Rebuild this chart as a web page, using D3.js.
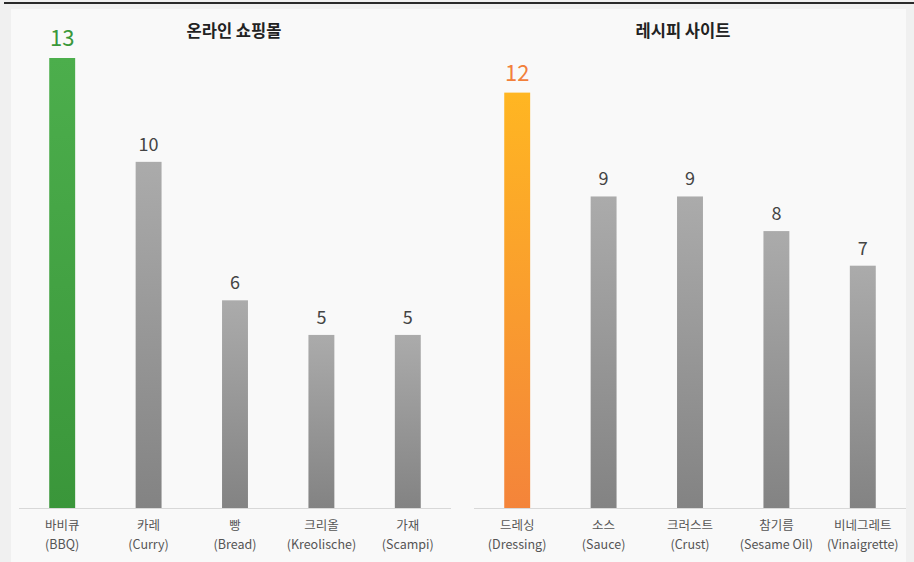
<!DOCTYPE html>
<html>
<head>
<meta charset="utf-8">
<script src="https://cdn.jsdelivr.net/npm/d3@7"></script>
<style>
body { margin: 0; background: #f0f0f0; font-family: "Noto Sans CJK KR", "Noto Sans", sans-serif; }
</style>
</head>
<body>
<script>
// data
var shopTitle = "온라인 쇼핑몰";
var shopKo = ["바비큐", "카레", "빵", "크리올", "가재"];
var shopEn = ["(BBQ)", "(Curry)", "(Bread)", "(Kreolische)", "(Scampi)"];
var shopValues = [13, 10, 6, 5, 5];

var recipeTitle = "레시피 사이트";
var recipeKo = ["드레싱", "소스", "크러스트", "참기름", "비네그레트"];
var recipeEn = ["(Dressing)", "(Sauce)", "(Crust)", "(Sesame Oil)", "(Vinaigrette)"];
var recipeValues = [12, 9, 9, 8, 7];

var width = 914;
var height = 562;

var svg = d3.select("body")
    .append("svg")
    .attr("width", width)
    .attr("height", height);

var defs = svg.append("defs");

function grad(id, top, bottom) {
    var g = defs.append("linearGradient")
        .attr("id", id)
        .attr("x1", 0).attr("y1", 0)
        .attr("x2", 0).attr("y2", 1);
    g.append("stop").attr("offset", "0%").attr("stop-color", top);
    g.append("stop").attr("offset", "100%").attr("stop-color", bottom);
}
grad("gGreen", "#4cae4c", "#3a963a");
grad("gGrey", "#ababab", "#838383");
grad("gOrange", "#ffb622", "#f4843a");

// top rule and panel
svg.append("rect")
    .attr("x", 4).attr("y", 2)
    .attr("width", width - 4).attr("height", 2)
    .attr("fill", "#2a2a2a");

svg.append("rect")
    .attr("x", 11).attr("y", 9)
    .attr("width", 895).attr("height", height - 9)
    .attr("fill", "#f9f9f9");

var baseY = 508;
var y = d3.scaleLinear()
    .domain([0, 13])
    .range([baseY, 58]);

function drawChart(title, titleX, ko, en, values, x0, x1, hiGrad, hiColor) {
    var x = d3.scaleBand()
        .domain(ko)
        .range([x0, x1])
        .paddingInner(0.7)
        .paddingOuter(0.35);

    var g = svg.append("g");

    g.append("text")
        .attr("x", titleX)
        .attr("y", 37)
        .attr("text-anchor", "middle")
        .attr("font-size", 16.5)
        .attr("font-weight", "bold")
        .attr("fill", "#222")
        .text(title);

    g.append("line")
        .attr("x1", x0).attr("x2", x1)
        .attr("y1", baseY + 0.5).attr("y2", baseY + 0.5)
        .attr("stroke", "#d8d8d8");

    g.selectAll(".bar")
        .data(values)
        .enter().append("rect")
        .attr("class", "bar")
        .attr("x", function(d, i) { return x(ko[i]); })
        .attr("y", function(d) { return y(d); })
        .attr("width", x.bandwidth())
        .attr("height", function(d) { return baseY - y(d); })
        .attr("fill", function(d, i) { return i == 0 ? "url(#" + hiGrad + ")" : "url(#gGrey)"; });

    g.selectAll(".val")
        .data(values)
        .enter().append("text")
        .attr("class", "val")
        .attr("x", function(d, i) { return x(ko[i]) + x.bandwidth() / 2; })
        .attr("y", function(d, i) { return y(d) - (i == 0 ? 12 : 11); })
        .attr("text-anchor", "middle")
        .attr("font-size", function(d, i) { return i == 0 ? 22 : 18; })
        .attr("fill", function(d, i) { return i == 0 ? hiColor : "#444"; })
        .text(function(d) { return d; });

    g.selectAll(".ko")
        .data(ko)
        .enter().append("text")
        .attr("class", "ko")
        .attr("x", function(d) { return x(d) + x.bandwidth() / 2; })
        .attr("y", 530)
        .attr("text-anchor", "middle")
        .attr("font-size", 12.5)
        .attr("fill", "#555")
        .text(function(d) { return d; });

    g.selectAll(".en")
        .data(en)
        .enter().append("text")
        .attr("class", "en")
        .attr("x", function(d, i) { return x(ko[i]) + x.bandwidth() / 2; })
        .attr("y", 549)
        .attr("text-anchor", "middle")
        .attr("font-size", 12.5)
        .attr("fill", "#555")
        .text(function(d) { return d; });
}

drawChart(shopTitle, 234, shopKo, shopEn, shopValues, 19, 451, "gGreen", "#3a983a");
drawChart(recipeTitle, 683, recipeKo, recipeEn, recipeValues, 474, 906, "gOrange", "#f2803a");
</script>
</body>
</html>
